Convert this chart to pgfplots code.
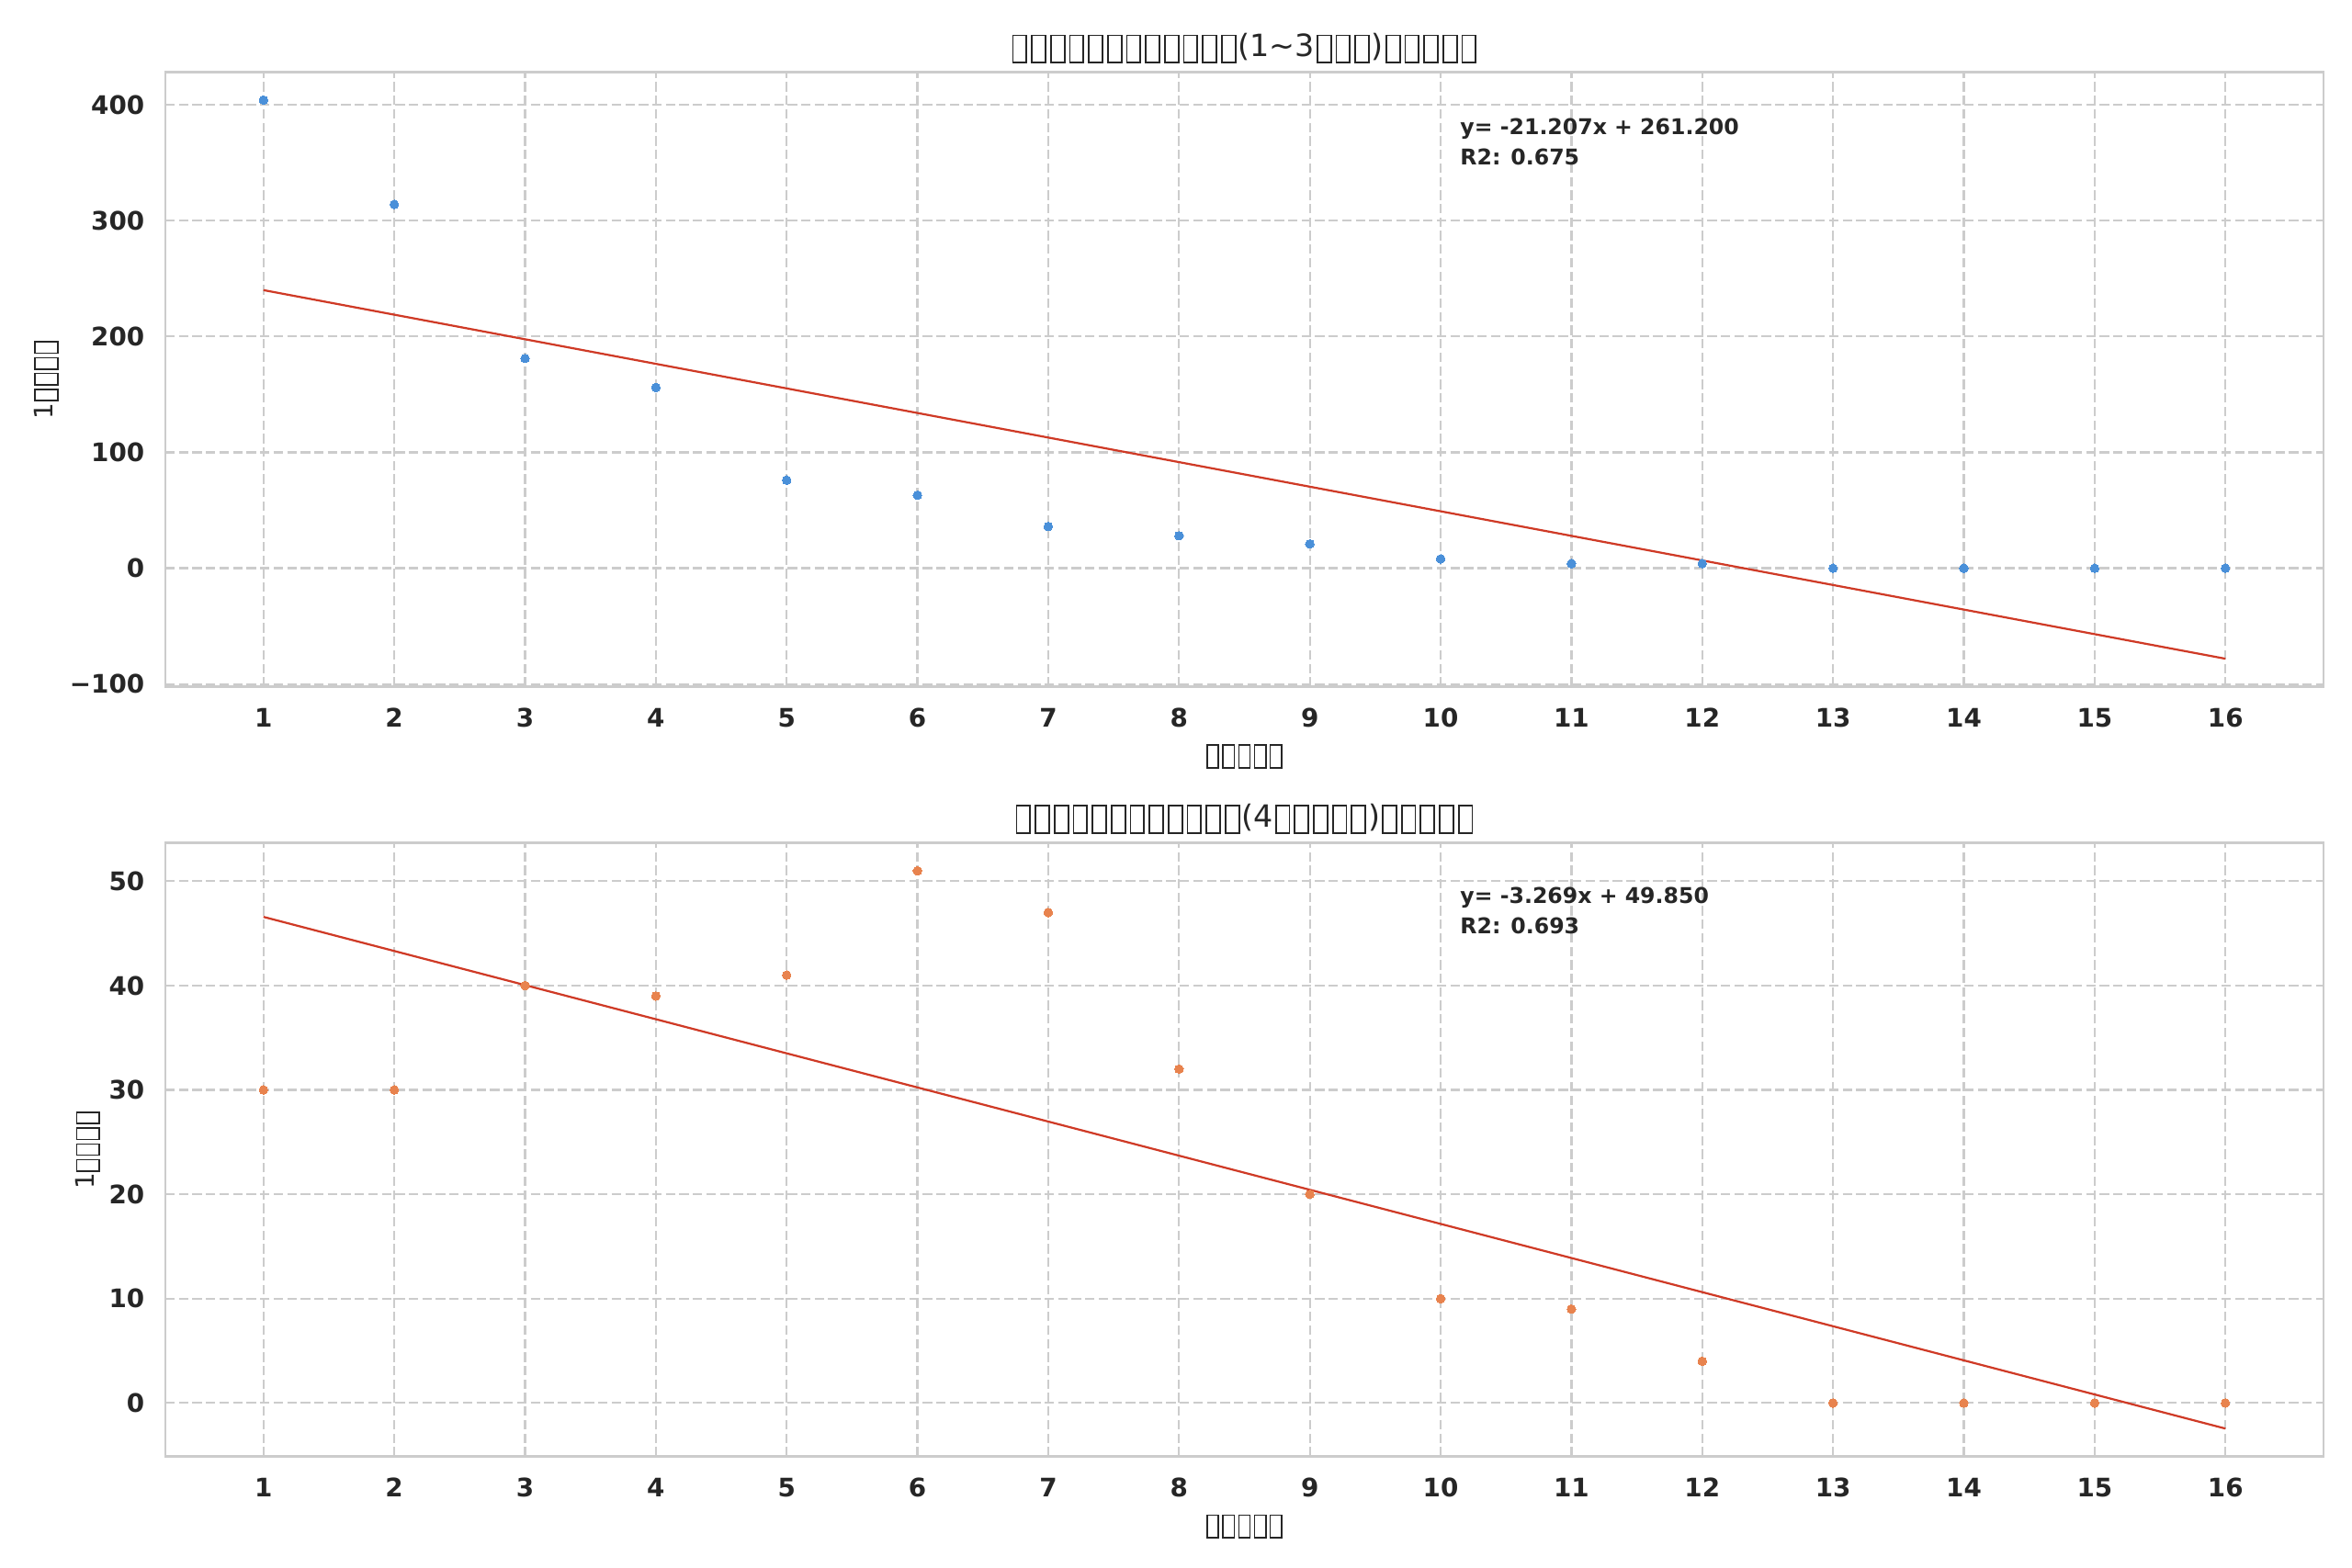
\documentclass[border=0pt]{standalone}
\usepackage{fontspec}
\setmainfont{DejaVu Sans}
\usepackage{pgfplots}
\pgfplotsset{compat=1.18}
\definecolor{txt}{HTML}{262626}
\definecolor{gridc}{HTML}{CCCCCC}
\definecolor{ptblue}{HTML}{4A90D9}
\definecolor{ptorange}{HTML}{E8834E}
\definecolor{fitred}{HTML}{CF3A26}
% missing-glyph box, as in the reference
\newcommand{\tf}{\kern0.06em\raisebox{-0.177em}{\fboxsep=0pt\fboxrule=0.055em\fbox{\rule{0pt}{0.837em}\kern0.39em}}\kern0.06em}
\pgfplotsset{
  myaxis/.style={
    width=845.64pt, scale only axis,
    xmin=0.25, xmax=16.75,
    xtick={1,...,16},
    major tick length=0pt,
    axis line style={gridc, line width=1pt},
    grid=major,
    major grid style={gridc, line width=0.8pt, dash pattern=on 3.7pt off 1.6pt},
    tick label style={font=\bfseries, text=txt, inner sep=0pt},
    xticklabel style={anchor=north, yshift=-8.3pt},
    yticklabel style={anchor=east, xshift=-8pt},
    /pgf/number format/assume math mode=true,
  }
}
\begin{document}
\begin{tikzpicture}
\useasboundingbox (0,0) rectangle (921.6pt,614.52pt);
% top axis
\begin{axis}[myaxis, at={(64.8pt,345.4pt)}, anchor=south west, height=240.84pt,
  ymin=-102.22, ymax=428.11,
  ytick={-100,0,100,200,300,400},
  yticklabels={−100,0,100,200,300,400}]
\addplot[only marks, mark=*, mark size=1.7pt, mark options={fill=ptblue, draw=ptblue, line width=0pt}] coordinates {
(1,404) (2,314) (3,181) (4,156) (5,76) (6,63) (7,36) (8,28)
(9,21) (10,8) (11,4) (12,4) (13,0) (14,0) (15,0) (16,0)};
\addplot[fitred, line width=0.8pt] coordinates {(1,239.993) (16,-78.112)};
\end{axis}
% bottom axis
\begin{axis}[myaxis, at={(64.8pt,43.7pt)}, anchor=south west, height=240.48pt,
  ymin=-5.127, ymax=53.673,
  ytick={0,10,20,30,40,50},
  yticklabels={0,10,20,30,40,50}]
\addplot[only marks, mark=*, mark size=1.7pt, mark options={fill=ptorange, draw=ptorange, line width=0pt}] coordinates {
(1,30) (2,30) (3,40) (4,39) (5,41) (6,51) (7,47) (8,32)
(9,20) (10,10) (11,9) (12,4) (13,0) (14,0) (15,0) (16,0)};
\addplot[fitred, line width=0.8pt] coordinates {(1,46.581) (16,-2.454)};
\end{axis}
% titles
\node[anchor=base, inner sep=0pt, text=txt, font=\fontsize{12}{14}\selectfont] at (487.6pt,592.4pt)
  {\tf\tf\tf\tf\tf\tf\tf\tf\tf\tf\tf\tf(1\symbol{"7E}3\tf\tf\tf)\tf\tf\tf\tf\tf};
\node[anchor=base, inner sep=0pt, text=txt, font=\fontsize{12}{14}\selectfont] at (487.6pt,290.4pt)
  {\tf\tf\tf\tf\tf\tf\tf\tf\tf\tf\tf\tf(4\tf\tf\tf\tf\tf)\tf\tf\tf\tf\tf};
% x labels
\node[anchor=base, inner sep=0pt, text=txt, font=\fontsize{10}{12}\selectfont] at (487.6pt,315.6pt) {\tf\tf\tf\tf\tf};
\node[anchor=base, inner sep=0pt, text=txt, font=\fontsize{10}{12}\selectfont] at (487.6pt,13.9pt) {\tf\tf\tf\tf\tf};
% y labels
\node[anchor=base, rotate=90, inner sep=0pt, text=txt, font=\fontsize{10}{12}\selectfont] at (20.6pt,465.8pt) {1\tf\tf\tf\tf};
\node[anchor=base, rotate=90, inner sep=0pt, text=txt, font=\fontsize{10}{12}\selectfont] at (36.9pt,163.9pt) {1\tf\tf\tf\tf};
% annotations
\node[anchor=base west, inner sep=0pt, text=txt, font=\fontsize{8.5}{10}\selectfont\bfseries] at (572pt,561.8pt) {y= -21.207x + 261.200};
\node[anchor=base west, inner sep=0pt, text=txt, font=\fontsize{8.5}{10}\selectfont\bfseries] at (572pt,549.9pt) {R2: 0.675};
\node[anchor=base west, inner sep=0pt, text=txt, font=\fontsize{8.5}{10}\selectfont\bfseries] at (572pt,260.5pt) {y= -3.269x + 49.850};
\node[anchor=base west, inner sep=0pt, text=txt, font=\fontsize{8.5}{10}\selectfont\bfseries] at (572pt,248.6pt) {R2: 0.693};
\end{tikzpicture}
\end{document}
